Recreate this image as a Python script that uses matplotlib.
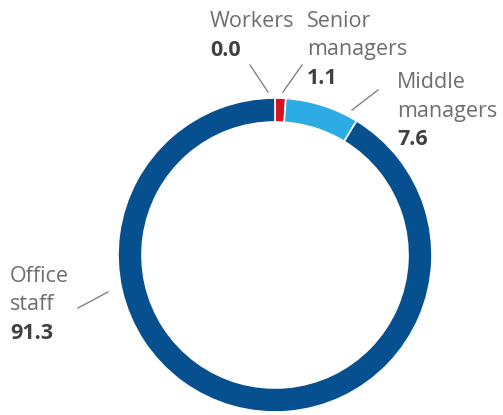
import matplotlib.pyplot as plt

# data
categories = [["Workers"], ["Senior", "managers"], ["Middle", "managers"], ["Office", "staff"]]
values = [0.0, 1.1, 7.6, 91.3]
value_labels = ["0.0", "1.1", "7.6", "91.3"]
colors = ["#d7141e", "#d7141e", "#2cace3", "#06508f"]

W, H = 503, 415
fig = plt.figure(figsize=(W / 100, H / 100), dpi=100)
ax = fig.add_axes([0, 0, 1, 1])

cx, cy, r = 275, H - 255, 157
ax.pie(values, colors=colors, startangle=90, counterclock=False,
       center=(cx, cy), radius=r, frame=True,
       wedgeprops=dict(width=24, edgecolor="white", linewidth=1.2))
ax.set_xlim(0, W)
ax.set_ylim(0, H)
ax.set_aspect("equal")
ax.axis("off")

# label layout (pixel coords from top-left): text x, first baseline y, leader from -> to
layout = [
    (210, 27, (268, 92), (250, 65)),
    (307, 27, (283, 92), (302, 65)),
    (397, 88, (352, 110), (378, 90)),
    (10, 282, (108, 292), (78, 308)),
]
font = "Open Sans"
step = 28.5
for lines, val, (tx, ty, p1, p2) in zip(categories, value_labels, layout):
    for i, line in enumerate(lines):
        ax.text(tx, H - (ty + i * step), line, ha="left", va="baseline",
                fontsize=15.5, color="#6e6e6e", family=font)
    ax.text(tx, H - (ty + len(lines) * step), val, ha="left", va="baseline",
            fontsize=15.5, fontweight="bold", color="#404040", family=font)
    ax.plot([p1[0], p2[0]], [H - p1[1], H - p2[1]], color="#777777", lw=0.9)

fig.savefig("out.png", dpi=100)
